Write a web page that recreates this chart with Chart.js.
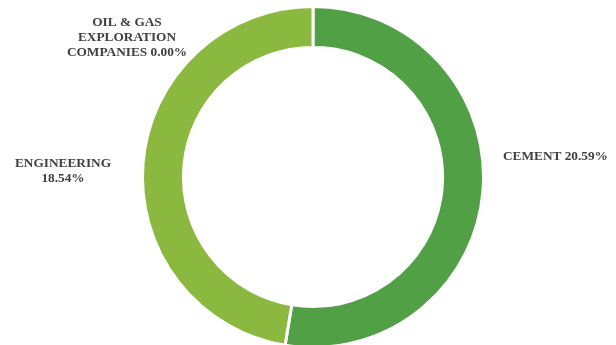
<!DOCTYPE html>
<html>
<head>
<meta charset="utf-8">
<script src="https://cdn.jsdelivr.net/npm/chart.js@4/dist/chart.umd.min.js"></script>
<style>
  html, body { margin: 0; padding: 0; background: #ffffff; overflow: hidden; }
  #wrap { width: 616px; height: 345px; position: relative; overflow: hidden; }
</style>
</head>
<body>
<div id="wrap"><canvas id="c" width="616" height="350"></canvas></div>
<script>
// Sector shares (%)
const categories = ['CEMENT', 'ENGINEERING', 'OIL & GAS EXPLORATION COMPANIES'];
const shares = [20.59, 18.54, 0.00];
const sliceColors = ['#52A046', '#8BB93F', '#4E7FBE'];

// Label text lines per category (value appended from shares)
const labelLines = [
  (v) => ['CEMENT ' + v],
  (v) => ['ENGINEERING', v],
  (v) => ['OIL & GAS', 'EXPLORATION', 'COMPANIES ' + v]
];
// Label placement: pixel offset of the label block centre from the doughnut centre
const labelPlace = [
  { dx: 190, dy: -20, align: 'left' },
  { dx: -250, dy: -5.5, align: 'center' },
  { dx: -186, dy: -139, align: 'center' }
];

const outsideLabels = {
  id: 'outsideLabels',
  afterDatasetsDraw(chart) {
    const ctx = chart.ctx;
    const arc0 = chart.getDatasetMeta(0).data[0];
    const { x: cx, y: cy } = arc0.getProps(['x', 'y'], true);
    ctx.save();
    ctx.fillStyle = '#404040';
    ctx.font = 'bold 13.3px "Liberation Serif", "DejaVu Serif", serif';
    ctx.textBaseline = 'middle';
    const lineH = 15;
    shares.forEach((v, i) => {
      const lines = labelLines[i](v.toFixed(2) + '%');
      const p = labelPlace[i];
      const x = cx + p.dx;
      const y0 = cy + p.dy - (lines.length - 1) * lineH / 2;
      ctx.textAlign = p.align;
      lines.forEach((t, k) => ctx.fillText(t, x, y0 + k * lineH));
    });
    ctx.restore();
  }
};

new Chart(document.getElementById('c'), {
  type: 'doughnut',
  data: {
    labels: categories,
    datasets: [{
      data: shares,
      backgroundColor: sliceColors,
      borderColor: '#ffffff',
      borderWidth: 3
    }]
  },
  options: {
    responsive: false,
    animation: false,
    cutout: '76%',
    rotation: 0,
    layout: { padding: { top: 5, bottom: 1, left: 10, right: 0 } },
    plugins: {
      legend: { display: false },
      tooltip: { enabled: false }
    }
  },
  plugins: [outsideLabels]
});
</script>
</body>
</html>
